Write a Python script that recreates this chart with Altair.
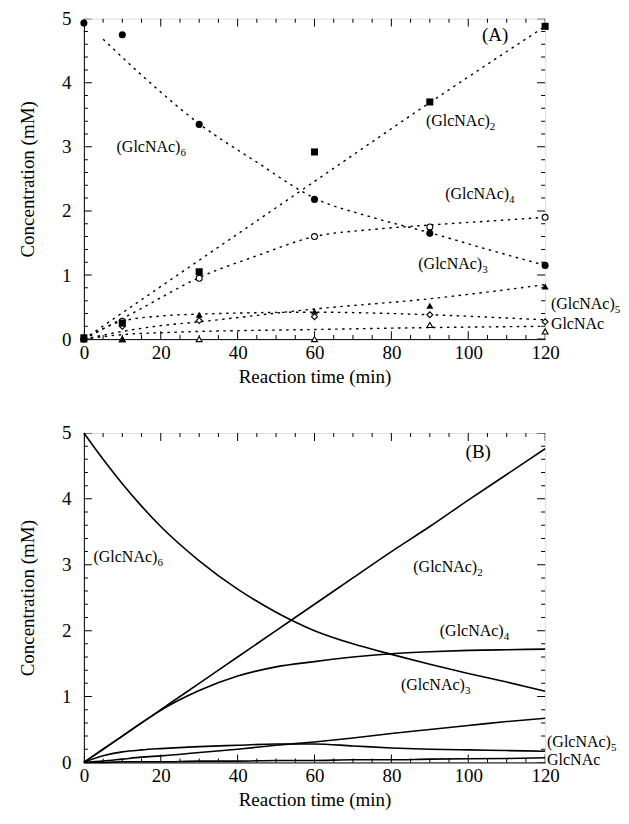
import altair as alt
import pandas as pd

FONT = "Liberation Serif"
W = 462
H_A = 321
H_B = 330

# ---------------- Panel A: measured points ----------------
t_obs = [0, 10, 30, 60, 90, 120]
g6_obs = [4.93, 4.75, 3.35, 2.18, 1.65, 1.15]
g2_obs = [0.02, 0.25, 1.05, 2.92, 3.70, 4.88]
g4_obs = [0.00, 0.28, 0.95, 1.60, 1.75, 1.90]
g3_obs = [0.00, 0.00, 0.38, 0.43, 0.52, 0.82]
g5_obs = [0.00, 0.20, 0.29, 0.35, 0.38, 0.27]
g1_obs = [0.00, 0.00, 0.00, 0.00, 0.22, 0.12]

# ---------------- Panel A: dotted fit lines ----------------
t_fit_g6 = [5, 15, 30, 45, 60, 75, 90, 105, 120]
g6_fit = [4.68, 4.12, 3.36, 2.76, 2.20, 1.90, 1.66, 1.40, 1.15]
t_fit_g2 = [0, 30, 60, 90, 120]
g2_fit = [0.00, 1.23, 2.46, 3.69, 4.88]
t_fit_g4 = [0, 15, 30, 45, 60, 75, 90, 105, 120]
g4_fit = [0.00, 0.48, 0.96, 1.30, 1.60, 1.71, 1.78, 1.84, 1.90]
t_fit_g3 = [0, 10, 20, 30, 60, 90, 120]
g3_fit = [0.00, 0.12, 0.21, 0.27, 0.47, 0.63, 0.85]
t_fit_g5 = [0, 10, 20, 30, 60, 90, 120]
g5_fit = [0.00, 0.28, 0.36, 0.39, 0.42, 0.38, 0.30]
t_fit_g1 = [0, 10, 20, 60, 90, 120]
g1_fit = [0.00, 0.07, 0.10, 0.15, 0.18, 0.20]

# ---------------- Panel B: model curves ----------------
t_mod = [0, 5, 10, 15, 20, 30, 40, 50, 60, 70, 80, 90, 100, 110, 120]
g6_mod = [5.00, 4.60, 4.23, 3.89, 3.58, 3.06, 2.63, 2.28, 2.00, 1.80, 1.64, 1.49, 1.35, 1.22, 1.08]
g2_mod = [0.00, 0.20, 0.40, 0.60, 0.80, 1.20, 1.60, 2.00, 2.40, 2.80, 3.20, 3.58, 3.98, 4.37, 4.76]
g4_mod = [0.00, 0.20, 0.40, 0.60, 0.79, 1.09, 1.31, 1.45, 1.53, 1.60, 1.65, 1.68, 1.70, 1.71, 1.72]
g3_mod = [0.00, 0.02, 0.05, 0.08, 0.10, 0.15, 0.20, 0.26, 0.31, 0.37, 0.44, 0.50, 0.56, 0.62, 0.67]
g5_mod = [0.00, 0.10, 0.16, 0.19, 0.21, 0.24, 0.26, 0.28, 0.28, 0.25, 0.22, 0.20, 0.19, 0.18, 0.17]
g1_mod = [0.00, 0.00, 0.01, 0.01, 0.01, 0.02, 0.02, 0.03, 0.03, 0.04, 0.04, 0.05, 0.055, 0.06, 0.07]

# ---------------- Annotations ----------------
bases = ["(GlcNAc)", "(GlcNAc)", "(GlcNAc)", "(GlcNAc)", "(GlcNAc)", "GlcNAc"]
subs = ["6", "2", "4", "3", "5", ""]
lab_A_t = [8.5, 89, 94, 87, 121.5, 121.5]
lab_A_c = [3.00, 3.40, 2.27, 1.17, 0.55, 0.23]
lab_B_t = [2.5, 85.7, 92.6, 82.5, 120.5, 120.5]
lab_B_c = [3.12, 2.96, 1.99, 1.17, 0.31, 0.04]

# ---------------- Axis tick values ----------------
x_tick_vals = list(range(0, 121, 5))
x_label_vals = list(range(0, 121, 20))
y_tick_vals = [round(i * 0.2, 1) for i in range(26)]
y_label_vals = [0, 1, 2, 3, 4, 5]
x_edges = [0, 120]
y_edges = [0, 5]

series = ["G6", "G2", "G4", "G3", "G5", "G1"]


def long(ts_list, vals_list):
    rows = []
    for s, ts, vals in zip(series, ts_list, vals_list):
        for t, v in zip(ts, vals):
            rows.append({"s": s, "t": t, "c": v})
    return pd.DataFrame(rows)


obs = long([t_obs] * 6, [g6_obs, g2_obs, g4_obs, g3_obs, g5_obs, g1_obs])
obs_filled = obs[obs.s.isin(["G6", "G2", "G3"])]
obs_open = obs[obs.s.isin(["G4", "G5", "G1"])]
fit = long([t_fit_g6, t_fit_g2, t_fit_g4, t_fit_g3, t_fit_g5, t_fit_g1],
           [g6_fit, g2_fit, g4_fit, g3_fit, g5_fit, g1_fit])
mod = long([t_mod] * 6, [g6_mod, g2_mod, g4_mod, g3_mod, g5_mod, g1_mod])

labA = pd.DataFrame({"base": bases, "sub": subs, "t": lab_A_t, "c": lab_A_c})
labB = pd.DataFrame({"base": bases, "sub": subs, "t": lab_B_t, "c": lab_B_c})
letA = pd.DataFrame({"name": ["(A)"], "t": [107], "c": [4.75]})
letB = pd.DataFrame({"name": ["(B)"], "t": [102.6], "c": [4.71]})

# tick frames (positions along the frame edges, clipped to the inside)
xt = pd.DataFrame([{"t": t, "c": e, "major": t in x_label_vals} for t in x_tick_vals for e in y_edges])
yt = pd.DataFrame([{"t": e, "c": c, "major": c in y_label_vals} for c in y_tick_vals for e in x_edges])

xscale = alt.Scale(domain=[0, 120], nice=False, zero=False)
yscale = alt.Scale(domain=[0, 5], nice=False, zero=False)


def x_lab():
    return alt.Axis(values=x_label_vals, ticks=False, labelFont=FONT,
                    labelFontSize=19, labelPadding=4, labelColor="black",
                    title="Reaction time (min)", titleFont=FONT, titleFontSize=19,
                    titleFontWeight="normal", titleColor="black", titlePadding=5,
                    domainColor="black", grid=False, labelFlush=False)


def y_lab():
    return alt.Axis(values=y_label_vals, ticks=False, labelFont=FONT,
                    labelFontSize=19, labelPadding=13, labelColor="black",
                    title="Concentration (mM)", titleFont=FONT, titleFontSize=19,
                    titleFontWeight="normal", titleColor="black", titlePadding=24,
                    domainColor="black", grid=False, labelFlush=False)


def enc():
    return dict(x=alt.X("t:Q", scale=xscale, axis=x_lab()),
                y=alt.Y("c:Q", scale=yscale, axis=y_lab()))


def tick_layers():
    xtk = alt.Chart(xt).mark_tick(orient="vertical", clip=True, thickness=1, color="black",
                                  opacity=1).encode(
        size=alt.condition("datum.major", alt.value(16), alt.value(8)), **enc())
    ytk = alt.Chart(yt).mark_tick(orient="horizontal", clip=True, thickness=1, color="black",
                                  opacity=1).encode(
        size=alt.condition("datum.major", alt.value(16), alt.value(8)), **enc())
    return [xtk, ytk]


def text_layers(lab):
    base = alt.Chart(lab).mark_text(align="left", baseline="middle", font=FONT, fontSize=16,
                                    color="black").encode(text="base:N", **enc())
    sub = alt.Chart(lab).mark_text(align="left", baseline="middle", font=FONT, fontSize=11,
                                   color="black", dx=64, dy=6).encode(text="sub:N", **enc())
    return [base, sub]


def panel_A():
    lines = alt.Chart(fit).mark_line(color="black", strokeWidth=1.4, strokeDash=[2.5, 4.5],
                                     interpolate="monotone").encode(detail="s:N", **enc())
    pts_open = alt.Chart(obs_open).mark_point(filled=False, fill="white", fillOpacity=1,
                                              color="black", strokeWidth=1.1, opacity=1, size=35).encode(
        shape=alt.Shape("s:N", scale=alt.Scale(domain=["G4", "G5", "G1"],
                                               range=["circle", "diamond", "triangle-up"]), legend=None),
        **enc())
    pts_filled = alt.Chart(obs_filled).mark_point(filled=True, color="black", opacity=1, size=50).encode(
        shape=alt.Shape("s:N", scale=alt.Scale(domain=["G6", "G2", "G3"],
                                               range=["circle", "square", "triangle-up"]), legend=None),
        **enc())
    letter = alt.Chart(letA).mark_text(align="center", baseline="middle", font=FONT, fontSize=19,
                                       color="black").encode(text="name:N", **enc())
    layers = [lines] + tick_layers() + [pts_open, pts_filled] + text_layers(labA) + [letter]
    return alt.layer(*layers).resolve_scale(shape="independent").properties(width=W, height=H_A)


def panel_B():
    lines = alt.Chart(mod).mark_line(color="black", strokeWidth=1.6, interpolate="monotone").encode(
        detail="s:N", **enc())
    letter = alt.Chart(letB).mark_text(align="center", baseline="middle", font=FONT, fontSize=19,
                                       color="black").encode(text="name:N", **enc())
    layers = [lines] + tick_layers() + text_layers(labB) + [letter]
    return alt.layer(*layers).properties(width=W, height=H_B)


chart = alt.vconcat(panel_A(), panel_B(), spacing=36).properties(
    padding={"left": 10, "top": 0, "right": 0, "bottom": 0}
).configure_view(stroke="black", strokeWidth=1).configure(background="white")

chart.save("out.html", embed_options={"renderer": "svg", "actions": False})
